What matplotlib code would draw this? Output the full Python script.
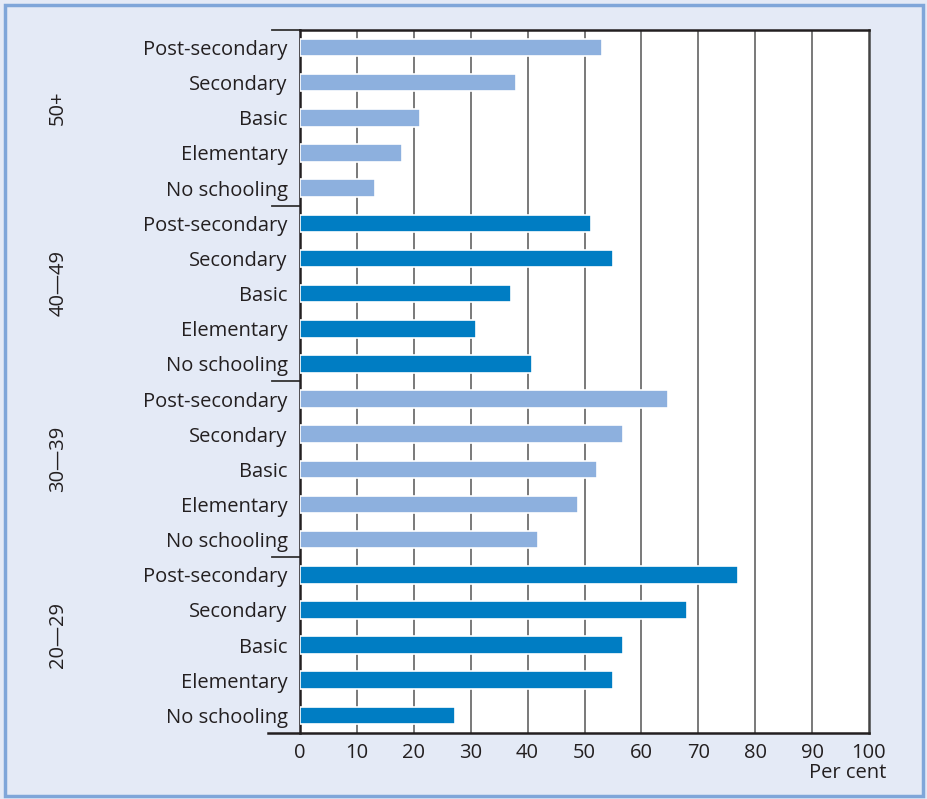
import matplotlib.pyplot as plt
from matplotlib.patches import Rectangle
import matplotlib.transforms as mtransforms

plt.rcParams['font.family'] = ['Open Sans', 'DejaVu Sans']

# data, bottom group first (20-29), within group bottom-up
levels = ["No schooling", "Elementary", "Basic", "Secondary", "Post-secondary"]
groups = ["20\u201429", "30\u201439", "40\u201449", "50+"]
vals_20_29 = [27.2, 55, 56.8, 68, 77]
vals_30_39 = [41.8, 48.9, 52.2, 56.8, 64.7]
vals_40_49 = [40.8, 31, 37, 55, 51.1]
vals_50_plus = [13.2, 17.9, 21, 38, 53.1]
all_vals = [vals_20_29, vals_30_39, vals_40_49, vals_50_plus]
group_colors = ["#007dc3", "#8db0de", "#007dc3", "#8db0de"]
xticks = list(range(0, 101, 10))

fig = plt.figure(figsize=(9.28, 7.99), dpi=100)
fig.patch.set_facecolor("#e4eaf6")
fig.patches.append(Rectangle((0.005, 0.004), 0.99, 0.99, transform=fig.transFigure,
                             fill=False, edgecolor="#7fa6d9", linewidth=2.5))

ax = fig.add_axes([0.3233, 0.0826, 0.6131, 0.8799])
ax.set_facecolor("white")

trans = mtransforms.blended_transform_factory(ax.transAxes, ax.transData)

ypos = []
labels = []
for g, vals in enumerate(all_vals):
    ys = [g * 5 + i for i in range(5)]
    ax.barh(ys, vals, height=0.5, color=group_colors[g], edgecolor="white",
            linewidth=1.2, zorder=3)
    ypos += ys
    labels += levels
    ax.text(-0.425, g * 5 + 2.3, groups[g], transform=trans,
            rotation=90, ha="center", va="center", fontsize=14.5, color="#231f20")

for x in xticks[1:-1]:
    ax.axvline(x, color="#555555", linewidth=1.1, zorder=1)

ax.set_xlim(0, 100)
ax.set_ylim(-0.5, 19.5)
ax.set_yticks(ypos)
ax.set_yticklabels(labels, fontsize=14.5, color="#231f20")
ax.set_xticks(xticks)
ax.set_xticklabels([str(x) for x in xticks], fontsize=14.5, color="#231f20")
ax.tick_params(axis="y", length=0, pad=9)
ax.tick_params(axis="x", length=0, pad=7)

for side in ["left", "top", "right", "bottom"]:
    ax.spines[side].set_color("#231f20")
    ax.spines[side].set_linewidth(1.8)
ax.spines["right"].set_color("#444444")
ax.spines["bottom"].set_bounds(-5.6, 100)
ax.spines["bottom"].set_clip_on(False)

# group separators left of the axis
for yb in [4.5, 9.5, 14.5, 19.5]:
    ax.plot([-0.049, 0], [yb, yb], transform=trans, color="#333333",
            linewidth=1.3, clip_on=False)

ax.text(1.03, -0.043, "Per cent", transform=ax.transAxes, ha="right", va="top",
        fontsize=14.5, color="#231f20")

fig.savefig("out.png", dpi=100, facecolor=fig.get_facecolor())
